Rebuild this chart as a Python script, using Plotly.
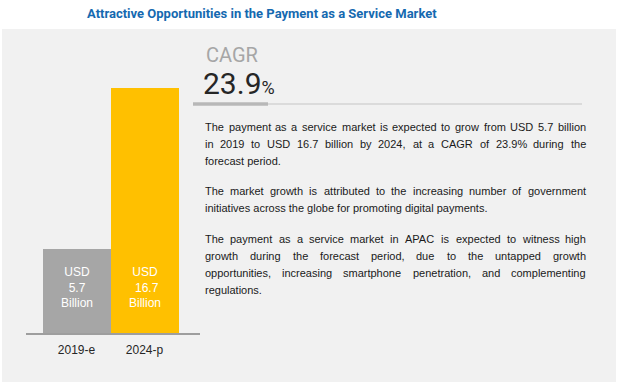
import plotly.graph_objects as go

W, H = 618, 387

categories = ["2019-e", "2024-p"]
values = [5.7, 16.7]
bar_colors = ["#a6a6a6", "#ffc000"]
bar_labels = ["USD<br>5.7<br>Billion", "USD<br> 16.7<br>Billion"]

title_text = "Attractive Opportunities in the Payment as a Service Market"
cagr_label = "CAGR"
cagr_value = "23.9"

body_lines = [
    "The payment as a service market is expected to grow from USD  5.7 billion",
    "in 2019 to USD   16.7 billion by 2024, at a CAGR of 23.9% during the",
    "forecast period.",
    "The market growth is attributed to the increasing number of government",
    "initiatives across the globe for promoting digital payments.",
    "The payment as a service market in APAC is expected to witness high",
    "growth during the forecast period, due to the untapped growth",
    "opportunities, increasing smartphone penetration, and complementing",
    "regulations.",
]
body_justify = [True, True, False, True, False, True, True, True, False]
body_y = [127, 144, 161, 191, 208, 239, 256, 273, 290]

BODY_SIZE = 11
BODY_LEFT = 205
BODY_RIGHT = 586

# Approximate Arial / Liberation Sans advance widths (per 1000 em) used for justification
ARIAL = {
    " ": 278, "%": 889, ",": 278, "-": 333, ".": 278,
    "A": 667, "B": 667, "C": 722, "D": 722, "E": 667, "G": 778, "P": 667,
    "R": 722, "S": 667, "T": 611, "U": 722,
    "a": 556, "b": 556, "c": 500, "d": 556, "e": 556, "f": 278, "g": 556,
    "h": 556, "i": 222, "j": 222, "k": 500, "l": 222, "m": 833, "n": 556,
    "o": 556, "p": 556, "q": 556, "r": 333, "s": 500, "t": 278, "u": 556,
    "v": 500, "w": 722, "x": 500, "y": 500, "z": 500,
}


def text_width(s, size):
    return sum(ARIAL.get(ch, 556) for ch in s) * size / 1000.0


def px(x):
    return x / W


def py(y):
    return 1 - y / H


fig = go.Figure()
fig.add_trace(go.Bar(
    x=categories, y=values, marker=dict(color=bar_colors, line=dict(width=0)),
    width=1.0, hoverinfo="skip",
))

annotations = []
annotations.append(dict(
    text="<b>" + title_text + "</b>", x=px(262), y=py(13), xref="paper", yref="paper",
    xanchor="center", yanchor="middle", showarrow=False,
    font=dict(family="Roboto", size=13, color="#1569b0"),
))
annotations.append(dict(
    text=cagr_label, x=px(204), y=py(55), xref="paper", yref="paper",
    xanchor="left", yanchor="middle", showarrow=False,
    font=dict(family="Roboto, Liberation Sans", size=20, color="#a6a6a6"),
))
annotations.append(dict(
    text=cagr_value + "<span style='font-size:18px'>%</span>", x=px(201), y=py(84),
    xref="paper", yref="paper", xanchor="left", yanchor="middle", showarrow=False,
    font=dict(family="Roboto, Liberation Sans", size=30, color="#262626"),
))

body_font = dict(family="Liberation Sans, Arial", size=BODY_SIZE, color="#1a1a1a")
for line, yy, just in zip(body_lines, body_y, body_justify):
    if not just:
        annotations.append(dict(
            text=line, x=px(BODY_LEFT), y=py(yy), xref="paper", yref="paper",
            xanchor="left", yanchor="middle", showarrow=False, font=body_font,
            borderpad=0, borderwidth=0,
        ))
        continue
    words = line.split()
    widths = [text_width(w, BODY_SIZE) for w in words]
    gap = (BODY_RIGHT - BODY_LEFT - sum(widths)) / (len(words) - 1)
    xcur = BODY_LEFT
    for w, wd in zip(words, widths):
        annotations.append(dict(
            text=w, x=px(xcur), y=py(yy), xref="paper", yref="paper",
            xanchor="left", yanchor="middle", showarrow=False, font=body_font,
            borderpad=0, borderwidth=0,
        ))
        xcur += wd + gap

for cat, lab in zip(categories, bar_labels):
    annotations.append(dict(
        text=lab, x=cat, y=3.1, xref="x", yref="y",
        xanchor="center", yanchor="middle", showarrow=False,
        font=dict(family="Liberation Sans, Arial", size=12, color="#ffffff"),
    ))

shapes = [
    dict(type="rect", xref="paper", yref="paper", x0=px(2), x1=px(616), y0=py(382), y1=py(29),
         fillcolor="#f1f1f1", line=dict(width=0), layer="below"),
    dict(type="line", xref="paper", yref="paper", x0=px(268), x1=px(582), y0=py(104), y1=py(104),
         line=dict(color="#d3d3d3", width=1.5)),
    dict(type="line", xref="paper", yref="paper", x0=px(193), x1=px(268), y0=py(104), y1=py(104),
         line=dict(color="#b8b8b8", width=3.5)),
]

fig.update_layout(
    width=W, height=H, margin=dict(l=0, r=0, t=0, b=0),
    paper_bgcolor="#ffffff", plot_bgcolor="rgba(0,0,0,0)",
    showlegend=False, bargap=0,
    annotations=annotations, shapes=shapes,
    xaxis=dict(domain=[px(26), px(200)], range=[-0.743, 1.816], showgrid=False,
               showline=True, linecolor="#9e9e9e", linewidth=1.5, ticks="",
               ticklabelstandoff=5,
               tickfont=dict(family="Liberation Sans, Arial", size=12, color="#262626"),
               zeroline=False, fixedrange=True),
    yaxis=dict(domain=[py(333), py(29)], range=[0, 20.75], visible=False, fixedrange=True),
)

fig.write_html(
    "out.html",
    config={"displayModeBar": False},
    post_script="document.body.style.margin='0';document.body.style.overflow='hidden';",
)
